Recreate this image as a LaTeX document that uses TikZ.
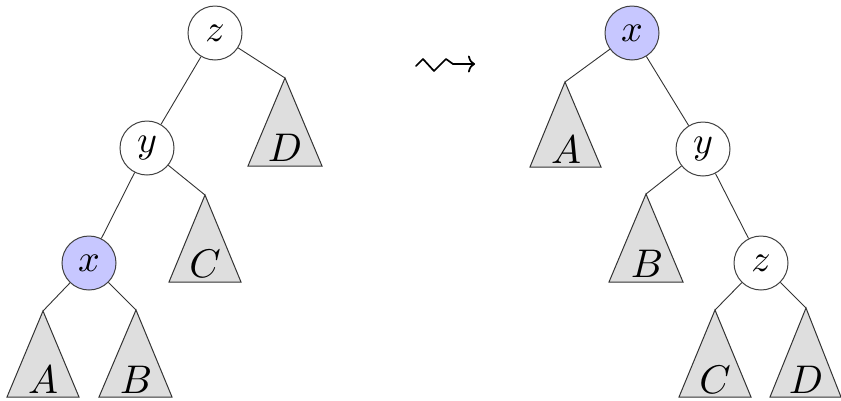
\documentclass[tikz,border=0pt]{standalone}
\usepackage{graphicx}
\usetikzlibrary{arrows.meta}
\newcommand{\bigsym}[1]{\scalebox{3.8}{$#1$}}
\newcommand{\biglab}[1]{\scalebox{4.0}{$#1$}}
\begin{document}
\begin{tikzpicture}[x=1pt,y=-1pt,
  tnode/.style={circle,draw=black!75,line width=1pt,minimum size=54pt,inner sep=0pt,fill=white},
  hl/.style={fill=blue!22},
  tri/.style={draw=black!80,line width=1pt,fill=black!13,line join=miter},
  lab/.style={inner sep=0pt},
  edge/.style={draw=black!80,line width=0.9pt}]
\useasboundingbox (0,0) rectangle (841,400);
% ---- left tree ----
\node[tnode] (Lz) at (215,33) {\bigsym{z}};
\node[tnode] (Ly) at (147,148) {\bigsym{y}};
\node[tnode,hl] (Lx) at (89,263) {\bigsym{x}};
\draw[tri] (285,78) coordinate (LDt) -- (248,166) -- (322,166) -- cycle;
\node[lab] (LD) at (285,148) {\biglab{D}};
\draw[tri] (205,195) coordinate (LCt) -- (169,282) -- (241,282) -- cycle;
\node[lab] (LC) at (205,264) {\biglab{C}};
\draw[tri] (43,311) coordinate (LAt) -- (7,397) -- (79,397) -- cycle;
\node[lab] (LA) at (43,380) {\biglab{A}};
\draw[tri] (136,310) coordinate (LBt) -- (99,397) -- (172,397) -- cycle;
\node[lab] (LB) at (136,380) {\biglab{B}};
\draw[edge] (Lz) -- (Ly);
\draw[edge] (Lz) -- (LDt);
\draw[edge] (Ly) -- (Lx);
\draw[edge] (Ly) -- (LCt);
\draw[edge] (Lx) -- (LAt);
\draw[edge] (Lx) -- (LBt);
% ---- arrow ----
\coordinate (s0) at (416,66);
\coordinate (s1) at (475,64);
\draw[line width=1.7pt,line join=round,line cap=round,-{To[length=7pt,width=17pt]}] (s0) -- (423,59) -- (434,71) -- (446,59) -- (453,64) -- (s1);
% ---- right tree ----
\node[tnode,hl] (Rx) at (632,33) {\bigsym{x}};
\node[tnode] (Ry) at (703,149) {\bigsym{y}};
\node[tnode] (Rz) at (761,263) {\bigsym{z}};
\draw[tri] (565,82) coordinate (RAt) -- (530,167) -- (601,167) -- cycle;
\node[lab] (RA) at (566,150) {\biglab{A}};
\draw[tri] (646,194) coordinate (RBt) -- (609,282) -- (683,282) -- cycle;
\node[lab] (RB) at (647,264) {\biglab{B}};
\draw[tri] (715,310) coordinate (RCt) -- (679,397) -- (751,397) -- cycle;
\node[lab] (RC) at (715,380) {\biglab{C}};
\draw[tri] (806,308) coordinate (RDt) -- (770,397) -- (841,397) -- cycle;
\node[lab] (RD) at (806,380) {\biglab{D}};
\draw[edge] (Rx) -- (RAt);
\draw[edge] (Rx) -- (Ry);
\draw[edge] (Ry) -- (RBt);
\draw[edge] (Ry) -- (Rz);
\draw[edge] (Rz) -- (RCt);
\draw[edge] (Rz) -- (RDt);
\end{tikzpicture}
\end{document}
